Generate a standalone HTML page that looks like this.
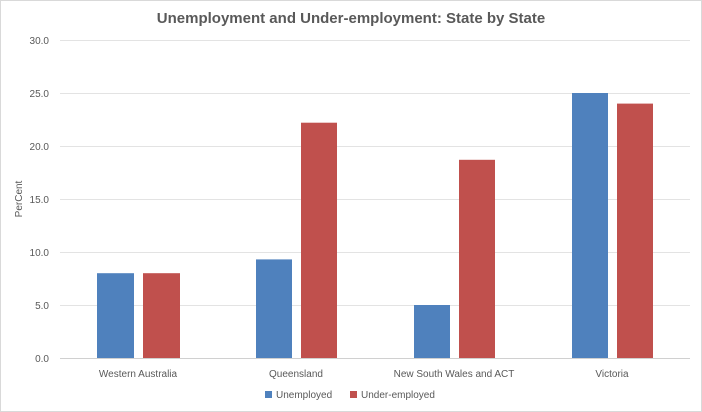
<!DOCTYPE html>
<html><head><style>
body{margin:0;background:#fff;}
svg{display:block;font-family:"Liberation Sans",sans-serif;}
</style></head><body>
<svg width="702" height="412" viewBox="0 0 702 412">
<rect x="0.5" y="0.5" width="701" height="411" fill="#fff" stroke="#d9d9d9"/>
<text x="351" y="23" text-anchor="middle" font-size="15" font-weight="bold" fill="#595959">Unemployment and Under-employment: State by State</text>
<g stroke="#e3e3e3" stroke-width="1">
<line x1="60" x2="690" y1="40.5" y2="40.5"/>
<line x1="60" x2="690" y1="93.5" y2="93.5"/>
<line x1="60" x2="690" y1="146.5" y2="146.5"/>
<line x1="60" x2="690" y1="199.5" y2="199.5"/>
<line x1="60" x2="690" y1="252.5" y2="252.5"/>
<line x1="60" x2="690" y1="305.5" y2="305.5"/>
</g>
<line x1="60" x2="690" y1="358.5" y2="358.5" stroke="#d0d0d0"/>
<g font-size="10" fill="#595959" text-anchor="end">
<text x="49" y="44">30.0</text>
<text x="49" y="97">25.0</text>
<text x="49" y="150">20.0</text>
<text x="49" y="203">15.0</text>
<text x="49" y="256">10.0</text>
<text x="49" y="309">5.0</text>
<text x="49" y="362">0.0</text>
</g>
<text transform="translate(22,199) rotate(-90)" text-anchor="middle" font-size="10" fill="#595959">PerCent</text>
<g fill="#4f81bd">
<rect x="97" y="273.2" width="37" height="84.8"/>
<rect x="256" y="259.4" width="36" height="98.6"/>
<rect x="414" y="305" width="36" height="53"/>
<rect x="572" y="93" width="36" height="265"/>
</g>
<g fill="#c0504d">
<rect x="143" y="273.2" width="37" height="84.8"/>
<rect x="301" y="122.7" width="36" height="235.3"/>
<rect x="459" y="159.8" width="36" height="198.2"/>
<rect x="617" y="103.6" width="36" height="254.4"/>
</g>
<g font-size="10" fill="#595959" text-anchor="middle">
<text x="138" y="377">Western Australia</text>
<text x="296" y="377">Queensland</text>
<text x="454" y="377">New South Wales and ACT</text>
<text x="612" y="377">Victoria</text>
</g>
<rect x="265" y="391" width="7" height="7" fill="#4f81bd"/>
<text x="276" y="398" font-size="10" fill="#595959">Unemployed</text>
<rect x="350" y="391" width="7" height="7" fill="#c0504d"/>
<text x="361" y="398" font-size="10" fill="#595959">Under-employed</text>
</svg>
</body></html>
